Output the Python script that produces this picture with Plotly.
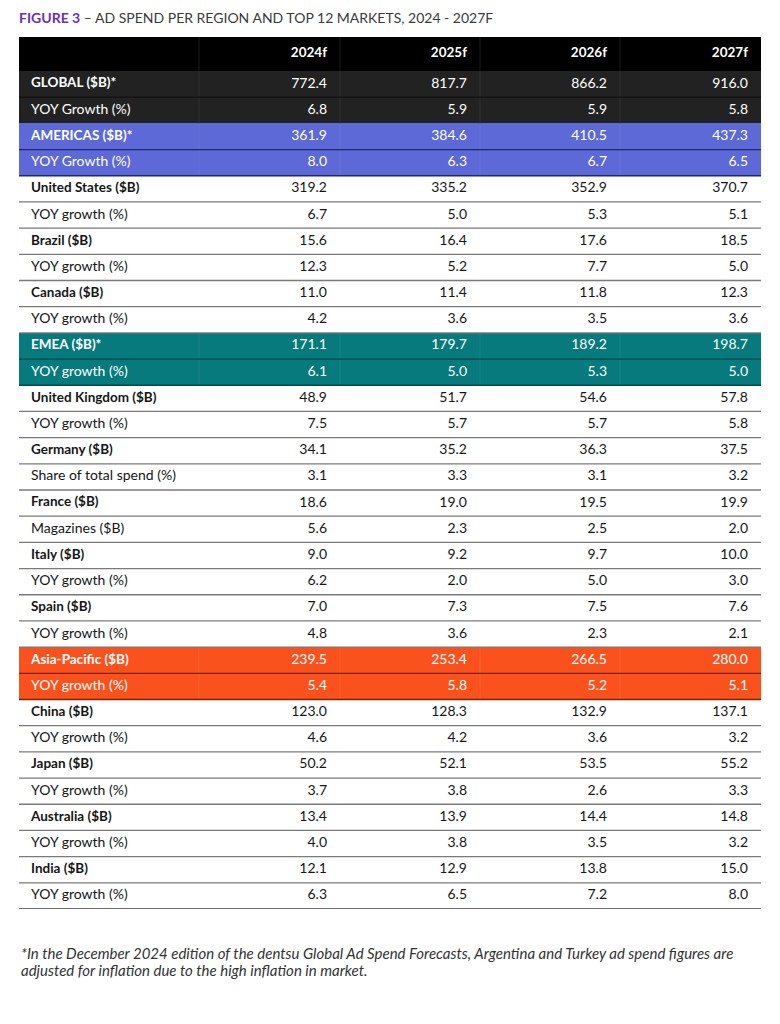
import plotly.graph_objects as go

# ---- data -------------------------------------------------------------
years = ["2024f", "2025f", "2026f", "2027f"]

row_labels = [
    "GLOBAL ($B)*", "YOY Growth (%)",
    "AMERICAS ($B)*", "YOY Growth (%)",
    "United States ($B)", "YOY growth (%)",
    "Brazil ($B)", "YOY growth (%)",
    "Canada ($B)", "YOY growth (%)",
    "EMEA ($B)*", "YOY growth (%)",
    "United Kingdom ($B)", "YOY growth (%)",
    "Germany ($B)", "Share of total spend (%)",
    "France ($B)", "Magazines ($B)",
    "Italy ($B)", "YOY growth (%)",
    "Spain ($B)", "YOY growth (%)",
    "Asia-Pacific ($B)", "YOY growth (%)",
    "China ($B)", "YOY growth (%)",
    "Japan ($B)", "YOY growth (%)",
    "Australia ($B)", "YOY growth (%)",
    "India ($B)", "YOY growth (%)",
]

# spend rows have bold labels, growth/share rows do not
bold_rows = [i % 2 == 0 for i in range(len(row_labels))]

# row group: "global", "americas", "emea", "apac" or "market"
row_group = (["global"] * 2 + ["americas"] * 2 + ["market"] * 6
             + ["emea"] * 2 + ["market"] * 10 + ["apac"] * 2 + ["market"] * 8)

v2024 = [772.4, 6.8, 361.9, 8.0, 319.2, 6.7, 15.6, 12.3, 11.0, 4.2,
         171.1, 6.1, 48.9, 7.5, 34.1, 3.1, 18.6, 5.6, 9.0, 6.2,
         7.0, 4.8, 239.5, 5.4, 123.0, 4.6, 50.2, 3.7, 13.4, 4.0, 12.1, 6.3]
v2025 = [817.7, 5.9, 384.6, 6.3, 335.2, 5.0, 16.4, 5.2, 11.4, 3.6,
         179.7, 5.0, 51.7, 5.7, 35.2, 3.3, 19.0, 2.3, 9.2, 2.0,
         7.3, 3.6, 253.4, 5.8, 128.3, 4.2, 52.1, 3.8, 13.9, 3.8, 12.9, 6.5]
v2026 = [866.2, 5.9, 410.5, 6.7, 352.9, 5.3, 17.6, 7.7, 11.8, 3.5,
         189.2, 5.3, 54.6, 5.7, 36.3, 3.1, 19.5, 2.5, 9.7, 5.0,
         7.5, 2.3, 266.5, 5.2, 132.9, 3.6, 53.5, 2.6, 14.4, 3.5, 13.8, 7.2]
v2027 = [916.0, 5.8, 437.3, 6.5, 370.7, 5.1, 18.5, 5.0, 12.3, 3.6,
         198.7, 5.0, 57.8, 5.8, 37.5, 3.2, 19.9, 2.0, 10.0, 3.0,
         7.6, 2.1, 280.0, 5.1, 137.1, 3.2, 55.2, 3.3, 14.8, 3.2, 15.0, 8.0]
year_values = [v2024, v2025, v2026, v2027]

title_text = "AD SPEND PER REGION AND TOP 12 MARKETS, 2024 - 2027F"
footnote_lines = [
    "*In the December 2024 edition of the dentsu Global Ad Spend Forecasts, "
    "Argentina and Turkey ad spend figures are",
    "adjusted for inflation due to the high inflation in market.",
]

# ---- styling ----------------------------------------------------------
FONT = "Lato"
groups = ["header", "global", "americas", "emea", "apac", "market"]
fill_of = {"header": "#000000", "global": "#222222", "americas": "#5c69d6",
           "emea": "#067a7c", "apac": "#fb521d", "market": "#ffffff"}
vline_of = {"header": "#1c1c1c", "global": "#2e2e2e", "americas": "#6874da",
            "emea": "#168385", "apac": "#fc602d"}
sep_of = {"global": "#111111", "americas": "#1d2870", "emea": "#04494b",
          "apac": "#7a2207", "market": "#7a7a7a"}
text_of = {"global": "#ffffff", "americas": "#ffffff", "emea": "#ffffff",
           "apac": "#ffffff", "market": "#161616"}

HEADER_H = 34
ROW_H = 26.2
col_edges = [0, 180, 321, 461, 601, 742]
PAD_L, PAD_R = 12, 13

n = len(row_labels)
row_edges = [0, HEADER_H] + [HEADER_H + (i + 1) * ROW_H for i in range(n)]
row_mid = [HEADER_H + (i + 0.5) * ROW_H for i in range(n)]
table_h = row_edges[-1]

# cell backgrounds as a heatmap of group codes
codes = [groups.index("header")] + [groups.index(g) for g in row_group]
z = [[c] * (len(col_edges) - 1) for c in codes]
cscale = []
for k, g in enumerate(groups):
    cscale += [[k / len(groups), fill_of[g]], [(k + 1) / len(groups), fill_of[g]]]

fig = go.Figure()
fig.add_trace(go.Heatmap(
    x=col_edges, y=row_edges, z=z, zmin=-0.5, zmax=len(groups) - 0.5,
    colorscale=cscale, showscale=False, hoverinfo="skip",
))

# row labels
fig.add_trace(go.Scatter(
    x=[PAD_L] * n, y=row_mid, mode="text",
    text=[f"<b>{t}</b>" if b else t for t, b in zip(row_labels, bold_rows)],
    textposition="middle right",
    textfont=dict(family=FONT, size=[13.5 if b else 14 for b in bold_rows],
                  color=[text_of[g] for g in row_group]),
    hoverinfo="skip", showlegend=False,
))

# values, one trace per year column
for j, vals in enumerate(year_values):
    fig.add_trace(go.Scatter(
        x=[col_edges[j + 2] - PAD_R] * n, y=row_mid, mode="text",
        text=[f"{v:.1f}" for v in vals],
        textposition="middle left",
        textfont=dict(family=FONT, size=14, color=[text_of[g] for g in row_group]),
        hoverinfo="skip", showlegend=False,
    ))

# header years
fig.add_trace(go.Scatter(
    x=[e - PAD_R for e in col_edges[2:]], y=[HEADER_H / 2] * len(years), mode="text",
    text=[f"<b>{y}</b>" for y in years], textposition="middle left",
    textfont=dict(family=FONT, size=13.5, color="#ffffff"),
    hoverinfo="skip", showlegend=False,
))

shapes = []
# faint column dividers inside the coloured bands
for k, g in enumerate(["header"] + row_group):
    if g == "market":
        continue
    for e in col_edges[1:-1]:
        shapes.append(dict(type="line", xref="x", yref="y", x0=e, x1=e,
                           y0=row_edges[k], y1=row_edges[k + 1],
                           line=dict(color=vline_of[g], width=1)))
# horizontal row separators
for i, g in enumerate(row_group):
    nxt = row_group[i + 1] if i + 1 < n else None
    if g == "global" and nxt != "global":
        continue
    last = nxt is None
    shapes.append(dict(
        type="line", xref="x", yref="y", x0=0, x1=col_edges[-1],
        y0=row_edges[i + 2], y1=row_edges[i + 2],
        line=dict(color="#6e6e6e" if last else sep_of[g], width=2 if last else 1.3),
    ))

annotations = [dict(
    text="<b><span style='color:#6a2fc0'>FIGURE 3</span></b> \u2013 " + title_text,
    xref="paper", yref="paper", x=0, y=1, xanchor="left", yanchor="middle",
    xshift=-2, yshift=19.5, showarrow=False,
    font=dict(family=FONT, size=14, color="#3a3a3a"),
)]
for k, line in enumerate(footnote_lines):
    annotations.append(dict(
        text=f"<i>{line}</i>", xref="paper", yref="paper", x=0, y=0,
        xanchor="left", yanchor="middle", yshift=-43.6 - 17 * k, showarrow=False,
        font=dict(family=FONT, size=15, color="#333333"),
    ))

# the page adds an 8px body margin, so the figure is 8px smaller than the window
fig.update_layout(
    width=772, height=1016,
    margin=dict(l=11, r=19, t=29, b=1016 - 29 - table_h),
    paper_bgcolor="#ffffff", plot_bgcolor="#ffffff",
    font=dict(family=FONT),
    xaxis=dict(range=[0, col_edges[-1]], visible=False, fixedrange=True),
    yaxis=dict(range=[table_h, 0], visible=False, fixedrange=True),
    shapes=shapes, annotations=annotations,
    showlegend=False,
)

fig.write_html("out.html")
